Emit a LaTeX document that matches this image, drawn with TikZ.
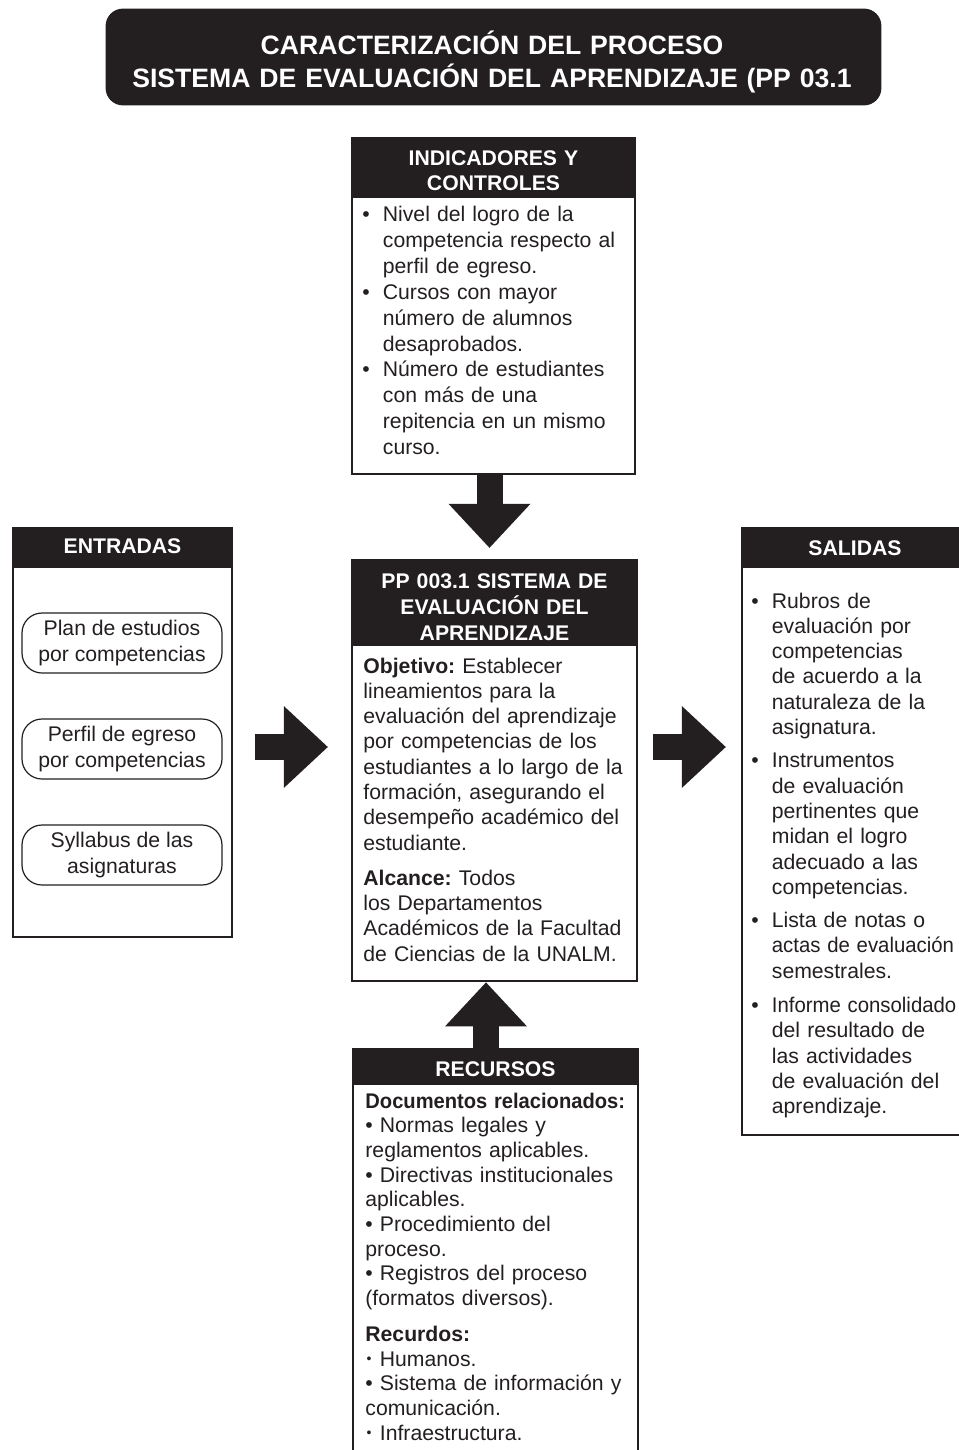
\documentclass[tikz,border=0pt]{standalone}
\usepackage{fontspec}
\setmainfont{Liberation Sans}
\usetikzlibrary{arrows.meta,fit}
\definecolor{ink}{HTML}{231F20}
\frenchspacing
\newcommand{\txtsize}{\fontsize{10.6pt}{12.65pt}\selectfont}
\newcommand{\hdsize}{\fontsize{10.6pt}{13pt}\selectfont}
\newcommand{\ttlsize}{\fontsize{13.3pt}{16.5pt}\selectfont}
\newcommand{\indsize}{\fontsize{10.6pt}{12.95pt}\selectfont}
\newcommand{\recsize}{\fontsize{10.6pt}{12.35pt}\selectfont}
\newcommand{\bul}{\makebox[10.25pt][l]{•}}
\newcommand{\smbul}{\makebox[0.35em][c]{\raisebox{0.25ex}{\fontsize{7pt}{7pt}\selectfont•}}}
\newcommand{\hang}{\hspace*{10.25pt}}
\newcommand{\narrow}[1]{\scalebox{0.96}[1]{#1}}

\begin{document}
\begin{tikzpicture}[x=0.5pt,y=-0.5pt,
    every node/.style={inner sep=0pt,text=ink},
    boxframe/.style={draw=ink,line width=1.4pt},
    headbar/.style={fill=ink,draw=ink,line width=1.4pt},
    headtext/.style={anchor=base,text=white,font=\hdsize\bfseries,align=center,text width=140pt},
    bodytext/.style={anchor=base west,font=\txtsize,align=left,text width=150pt},
    pill/.style={draw=ink,line width=0.6pt,rounded corners=10pt,minimum width=100pt,minimum height=30pt,align=center,font=\txtsize},
    bigarrow/.style={draw=ink,line width=13pt,-{Triangle[width=41pt,length=22pt,line width=0pt]}}]
    \useasboundingbox (0,0) rectangle (958,1450);
    \node[headbar,rounded corners=8pt,fit={(107,10) (880,104)}] (title) {};
    \node[anchor=base,text=white,font=\ttlsize\bfseries,align=center,text width=400pt] at (492,55) {CARACTERIZACIÓN DEL PROCESO\\SISTEMA DE EVALUACIÓN DEL APRENDIZAJE (PP 03.1};
    \node[boxframe,fit={(352,138) (635,474)}] (ind) {};
    \node[headbar,fit={(352,138) (635,197)}] (indh) {};
    \node[headtext] at (493.5,165) {INDICADORES Y\\CONTROLES};
    \node[bodytext,font=\indsize] at (362,221.5) {\bul Nivel del logro de la\\\hang competencia respecto al\\\hang perfil de egreso.\\\bul Cursos con mayor\\\hang número de alumnos\\\hang desaprobados.\\\bul Número de estudiantes\\\hang con más de una\\\hang repitencia en un mismo\\\hang curso.};
    \node[boxframe,fit={(352,560) (637,981)}] (main) {};
    \node[headbar,fit={(352,560) (637,645)}] (mainh) {};
    \node[headtext] at (494.5,588) {PP 003.1 SISTEMA DE\\EVALUACIÓN DEL\\APRENDIZAJE};
    \node[bodytext] at (363,673) {\textbf{Objetivo:} Establecer\\lineamientos para la\\evaluación del aprendizaje\\por competencias de los\\estudiantes a lo largo de la\\formación, asegurando el\\desempeño académico del\\estudiante.\\[4.85pt]\textbf{Alcance:} Todos\\los Departamentos\\Académicos de la Facultad\\de Ciencias de la UNALM.};
    \node[boxframe,fit={(13,528) (232,937)}] (ent) {};
    \node[headbar,fit={(13,528) (232,567)}] (enth) {};
    \node[headtext] at (122.5,553) {ENTRADAS};
    \node[pill] (plan) at (122,643) {Plan de estudios\\por competencias};
    \node[pill] (perfil) at (122,749) {Perfil de egreso\\por competencias};
    \node[pill] (syll) at (122,855) {Syllabus de las\\asignaturas};
    \node[boxframe,fit={(742,528) (975,1135)}] (sal) {};
    \node[headbar,fit={(742,528) (975,567)}] (salh) {};
    \node[headtext] at (855,555) {SALIDAS};
    \node[bodytext,text width=200pt] at (751,608) {\bul Rubros de\\\hang evaluación por\\\hang competencias\\\hang de acuerdo a la\\\hang naturaleza de la\\\hang asignatura.\\[4pt]\bul Instrumentos\\\hang de evaluación\\\hang pertinentes que\\\hang midan el logro\\\hang adecuado a las\\\hang competencias.\\[4pt]\bul Lista de notas o\\\hang \narrow{actas de evaluación}\\\hang semestrales.\\[4.5pt]\bul \narrow{Informe consolidado}\\\hang del resultado de\\\hang las actividades\\\hang de evaluación del\\\hang aprendizaje.};
    \node[boxframe,fit={(353,1049) (638,1520)}] (rec) {};
    \node[headbar,fit={(353,1049) (638,1084)}] (rech) {};
    \node[headtext] at (495.5,1076) {RECURSOS};
    \node[bodytext,font=\recsize] at (365,1108) {\textbf{\scalebox{0.95}[1]{Documentos relacionados:}}\\• Normas legales y\\reglamentos aplicables.\\• Directivas institucionales\\aplicables.\\• Procedimiento del\\proceso.\\• Registros del proceso\\(formatos diversos).\\[5.5pt]\textbf{Recurdos:}\\\smbul{} Humanos.\\• Sistema de información y\\comunicación.\\\smbul{} Infraestructura.};
    \coordinate (xdown) at (489.5,0);
    \coordinate (xup) at (486,0);
    \coordinate (yside) at (0,747);
    \draw[bigarrow,shorten >=5.4pt] (ind.south -| xdown) -- (main.north -| xdown);
    \draw[bigarrow] (rec.north -| xup) -- (main.south -| xup);
    \draw[bigarrow,shorten <=11pt,shorten >=11.4pt] (ent.east |- yside) -- (main.west |- yside);
    \draw[bigarrow,shorten <=7.4pt,shorten >=7.4pt] (main.east |- yside) -- (sal.west |- yside);
\end{tikzpicture}
\end{document}
